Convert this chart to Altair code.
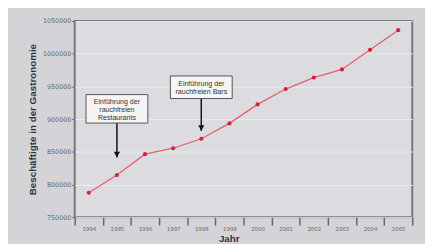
import altair as alt
import pandas as pd

# ---- data ----
years = [str(y) for y in range(1994, 2006)]
employees = [787500, 814500, 846500, 855500, 870000, 893500,
             922500, 946000, 963500, 976000, 1006000, 1036000]

y_ticks = [750000, 800000, 850000, 900000, 950000, 1000000, 1050000]

ann_years = ["1995", "1998"]
ann_text = ["Einführung der\nrauchfreien\nRestaurants",
            "Einführung der\nrauchfreien Bars"]
ann_box_top = [937500, 966000]
ann_box_bottom = [894000, 931500]
ann_arrow_tip = [841500, 882000]

df = pd.DataFrame({"year": years, "value": employees})
ann = pd.DataFrame({
    "year": ann_years,
    "text": ann_text,
    "top": ann_box_top,
    "bottom": ann_box_bottom,
    "tip": ann_arrow_tip,
})

xscale = alt.Scale(domain=years, paddingInner=0, paddingOuter=0)
yscale = alt.Scale(domain=[750000, 1050000], nice=False, zero=False)

x_axis = alt.Axis(
    title="Jahr", tickBand="extent", tickSize=8, tickWidth=1.5, tickColor="#666",
    labelFontSize=5.5, labelColor="#666", labelPadding=2, labelAngle=0,
    labelFont="DejaVu Sans", domain=False, labelOverlap=False,
    titleFontSize=10, titleFont="Liberation Sans", titleFontWeight="bold",
    titleColor="#333", titleX=157, titleY=17, titleBaseline="top", titleAlign="center",
)
y_axis = alt.Axis(
    title="Beschäftigte in der Gastronomie", values=y_ticks,
    format="d", tickCount=7,
    labelFontSize=6.5, labelColor="#666", labelFont="DejaVu Sans", labelPadding=1,
    labelOverlap=False, labelBound=False, labelFlush=False,
    tickSize=3, tickColor="#666", tickWidth=1, domain=False,
    grid=True, gridColor="#ececef", gridWidth=1,
    titleFontSize=10, titleFont="Liberation Sans", titleFontWeight="bold",
    titleColor="#333", titleX=-43, titleY=100, titleAlign="center",
    titleBaseline="middle", titleAngle=-90,
)

X = alt.X("year:O", scale=xscale, axis=x_axis)


def Y(field):
    return alt.Y(field, type="quantitative", scale=yscale, axis=y_axis)


base = alt.Chart(df)
line = base.mark_line(color="#e6606c", strokeWidth=1.3).encode(x=X, y=Y("value"))
pts = base.mark_circle(color="#d4203a", size=18, opacity=1).encode(x=X, y=Y("value"))

abase = alt.Chart(ann)
box = abase.mark_bar(width=63, fill="#f5f5f5", stroke="#555", strokeWidth=1).encode(
    x=X, y=Y("top"), y2="bottom:Q",
)
txt = abase.mark_text(fontSize=7.2, font="Liberation Sans", color="#333",
                      lineBreak="\n", lineHeight=8, baseline="top", dy=4).encode(
    x=X, y=Y("top"), text="text:N",
)
shaft = abase.mark_rule(color="#111", strokeWidth=1.5).encode(
    x=X, y=Y("bottom"), y2="tip:Q",
)
head = abase.mark_point(shape="triangle-down", filled=True, color="#111",
                        size=40, opacity=1, yOffset=-3).encode(
    x=X, y=Y("tip"),
)

chart = alt.layer(line, pts, shaft, head, box, txt).properties(
    width=344, height=200,
    autosize=alt.AutoSizeParams(type="none"),
    padding={"left": 68, "top": 11, "right": 13, "bottom": 25},
    background="#d4d4d8",
).configure_view(
    fill="#dcdce0", stroke="#777", strokeWidth=2
)

chart.save("out.html", embed_options={"renderer": "svg", "actions": False})
